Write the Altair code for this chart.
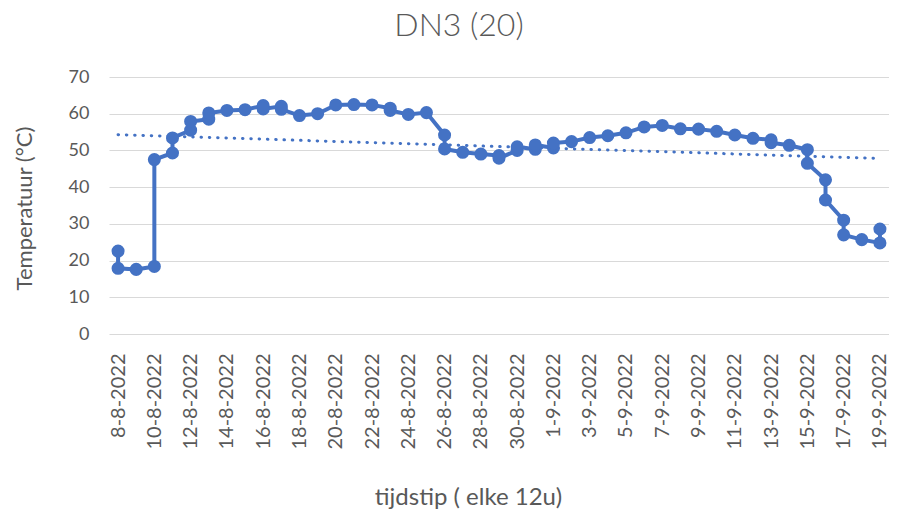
import altair as alt
import pandas as pd

# Readings (every 12h, plotted on their date)
dates = [
    "2022-08-08", "2022-08-08", "2022-08-09", "2022-08-10", "2022-08-10",
    "2022-08-11", "2022-08-11", "2022-08-12", "2022-08-12", "2022-08-13",
    "2022-08-13", "2022-08-14", "2022-08-15", "2022-08-16", "2022-08-16",
    "2022-08-17", "2022-08-17", "2022-08-18", "2022-08-19", "2022-08-20",
    "2022-08-21", "2022-08-22", "2022-08-23", "2022-08-23", "2022-08-24",
    "2022-08-25", "2022-08-26", "2022-08-26", "2022-08-27", "2022-08-28",
    "2022-08-29", "2022-08-29", "2022-08-30", "2022-08-30", "2022-08-31",
    "2022-08-31", "2022-09-01", "2022-09-01", "2022-09-02", "2022-09-03",
    "2022-09-04", "2022-09-05", "2022-09-06", "2022-09-07", "2022-09-08",
    "2022-09-09", "2022-09-10", "2022-09-11", "2022-09-12", "2022-09-13",
    "2022-09-13", "2022-09-14", "2022-09-15", "2022-09-15", "2022-09-16",
    "2022-09-16", "2022-09-17", "2022-09-17", "2022-09-18", "2022-09-19",
    "2022-09-19",
]
temps = [
    22.6, 17.9, 17.6, 18.4, 47.5,
    49.3, 53.4, 55.5, 57.9, 58.5,
    60.2, 60.9, 61.1, 62.2, 61.3,
    62.0, 61.2, 59.5, 60.0, 62.4,
    62.5, 62.4, 61.5, 60.9, 59.8,
    60.3, 54.2, 50.4, 49.5, 49.0,
    48.6, 47.9, 50.0, 51.0, 50.3,
    51.5, 50.7, 52.0, 52.4, 53.5,
    54.0, 54.8, 56.4, 56.8, 55.9,
    55.8, 55.2, 54.2, 53.3, 52.9,
    52.1, 51.4, 50.2, 46.5, 42.0,
    36.5, 31.0, 27.0, 25.7, 24.8,
    28.6,
]

# Linear trendline (dotted), endpoints
trend_dates = ["2022-08-08", "2022-09-19"]
trend_values = [54.3, 47.8]

# Axis tick labels (every 2 days)
tick_days = [
    (8, 8), (8, 10), (8, 12), (8, 14), (8, 16), (8, 18), (8, 20), (8, 22),
    (8, 24), (8, 26), (8, 28), (8, 30), (9, 1), (9, 3), (9, 5), (9, 7),
    (9, 9), (9, 11), (9, 13), (9, 15), (9, 17), (9, 19),
]
y_ticks = [0, 10, 20, 30, 40, 50, 60, 70]

df = pd.DataFrame({"datum": dates, "temp": temps, "volgorde": list(range(len(dates)))})
df_trend = pd.DataFrame({"datum": trend_dates, "temp": trend_values})

BLUE = "#4472C4"
TXT = "#595959"
FONT = "Lato"

x_scale = alt.Scale(
    type="utc",
    domain=[
        alt.DateTime(year=2022, month=8, date=7, hours=12, utc=True),
        alt.DateTime(year=2022, month=9, date=19, hours=12, utc=True),
    ],
)
x_axis = alt.Axis(
    values=[alt.DateTime(year=2022, month=m, date=d, utc=True) for m, d in tick_days],
    format="%-d-%-m-%Y",
    labelAngle=270,
    labelFont=FONT,
    labelFontSize=20,
    labelColor=TXT,
    labelPadding=19,
    labelOverlap=False,
    labelFlush=False,
    ticks=False,
    tickSize=0,
    domain=False,
    grid=False,
    title="tijdstip ( elke 12u)",
    titleFont=FONT,
    titleFontSize=24,
    titleFontWeight="normal",
    titleColor=TXT,
    titleX=359,
    titleY=163,
    titleAlign="center",
    titleBaseline="middle",
)
y_scale = alt.Scale(domain=[0, 70], nice=False)
y_axis = alt.Axis(
    values=y_ticks,
    labelFont=FONT,
    labelFontSize=18,
    labelColor=TXT,
    labelPadding=20,
    ticks=False,
    tickSize=0,
    domain=False,
    grid=True,
    gridColor="#d9d9d9",
    gridWidth=1.2,
    title="Temperatuur (°C)",
    titleFont=FONT,
    titleFontSize=22,
    titleFontWeight="normal",
    titleColor=TXT,
    titleAngle=270,
    titleX=-85,
    titleY=131,
    titleAlign="center",
    titleBaseline="middle",
)

trend = alt.Chart(df_trend).mark_line(
    color=BLUE, strokeWidth=3, strokeDash=[0.5, 7.8], strokeCap="round"
).encode(
    x=alt.X("datum:T", scale=x_scale, axis=x_axis),
    y=alt.Y("temp:Q", scale=y_scale, axis=y_axis),
)

line = alt.Chart(df).mark_line(color=BLUE, strokeWidth=4).encode(
    x=alt.X("datum:T", scale=x_scale, axis=x_axis),
    y=alt.Y("temp:Q", scale=y_scale, axis=y_axis),
    order="volgorde:Q",
)

points = alt.Chart(df).mark_point(filled=True, color=BLUE, opacity=1, size=170).encode(
    x=alt.X("datum:T", scale=x_scale, axis=x_axis),
    y=alt.Y("temp:Q", scale=y_scale, axis=y_axis),
)

chart = alt.layer(trend, line, points).properties(
    width=780,
    height=257,
    padding={"left": 101, "top": 69, "right": 0, "bottom": 180},
    autosize=alt.AutoSizeParams(type="none"),
    title=alt.TitleParams(
        "DN3 (20)",
        font=FONT,
        fontSize=32,
        fontWeight=300,
        color=TXT,
        anchor="middle",
        frame="group",
        dx=-40,
        offset=25,
    ),
).configure_view(stroke=None)

chart.save("out.html", embed_options={"renderer": "svg", "actions": False})
